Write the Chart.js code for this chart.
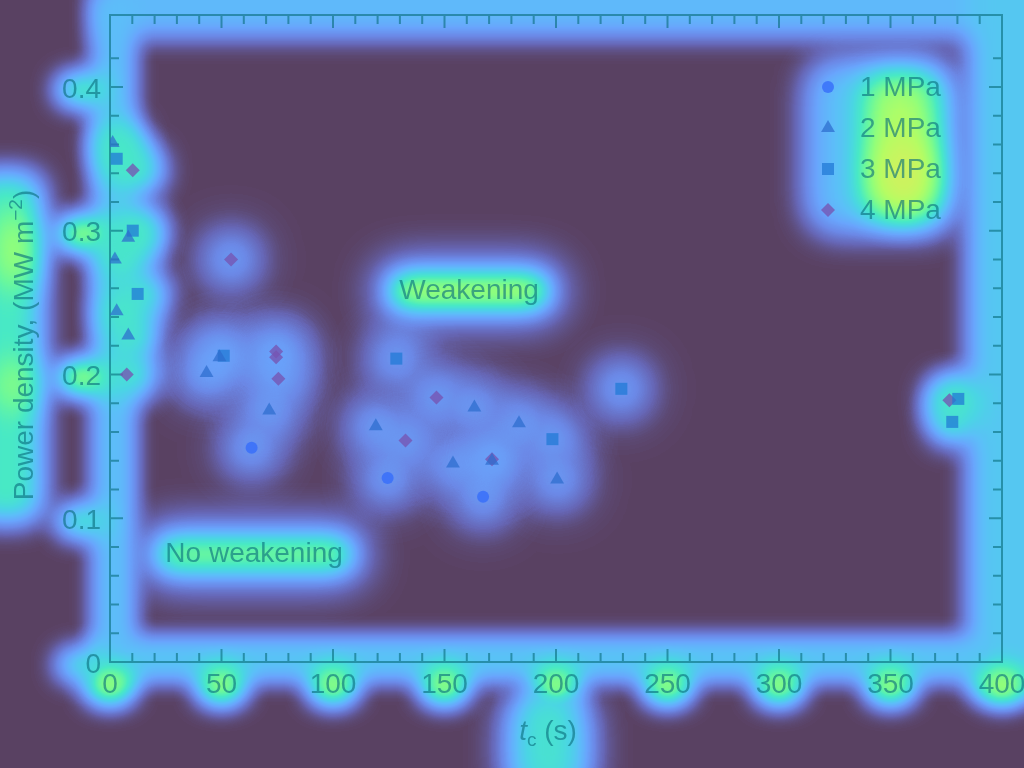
<!DOCTYPE html>
<html><head><meta charset="utf-8">
<script src="https://cdn.jsdelivr.net/npm/chart.js@4.4.1/dist/chart.umd.min.js"></script>
<style>html,body{margin:0;padding:0;background:#594162;overflow:hidden}#wrap{width:1024px;height:768px}</style>
</head><body><div id="wrap"><canvas id="c" width="1024" height="768"></canvas></div>
<script>
// ---- data ----
const seriesNames = ['1 MPa', '2 MPa', '3 MPa', '4 MPa'];
const mpa1X = [63.5, 124.5, 167.3];
const mpa1Y = [0.149, 0.128, 0.115];
const mpa2X = [1.2, 8.2, 2.2, 3.0, 8.2, 43.3, 49.1, 71.4, 119.2, 163.4, 183.4, 153.8, 171.3, 200.5];
const mpa2Y = [0.361, 0.295, 0.280, 0.244, 0.227, 0.201, 0.212, 0.175, 0.164, 0.177, 0.166, 0.138, 0.140, 0.127];
const mpa3X = [3.0, 10.2, 12.4, 51.0, 128.4, 198.4, 229.3, 380.4, 377.7];
const mpa3Y = [0.350, 0.300, 0.256, 0.213, 0.211, 0.155, 0.190, 0.183, 0.167];
const mpa4X = [10.2, 54.3, 7.5, 74.5, 74.5, 75.5, 146.4, 132.5, 171.3, 376.4];
const mpa4Y = [0.342, 0.280, 0.200, 0.216, 0.212, 0.197, 0.184, 0.154, 0.141, 0.182];
const xTickLabels = ['0', '50', '100', '150', '200', '250', '300', '350', '400'];
const yTickLabels = ['0', '0.1', '0.2', '0.3', '0.4'];
const annoText = ['Weakening', 'No weakening'];
const annoX = [161, 64.6];
const annoY = [0.258, 0.075];

// ---- style ----
const FONT = '"Liberation Sans", Arial, Helvetica, sans-serif';
const TXT = 'rgba(10,110,125,0.62)';
const styles = [
  {pointStyle: 'circle', radius: 6, color: 'rgba(54,109,250,0.8)'},
  {pointStyle: 'triangle', radius: 8, color: 'rgba(45,108,205,0.72)'},
  {pointStyle: 'rect', radius: 8.5, color: 'rgba(34,121,213,0.75)'},
  {pointStyle: 'rectRot', radius: 7, color: 'rgba(118,84,178,0.78)'}
];
const yLabelGlow = [0.28, 0.31, 0.45, 0.45, 0.34];

const zip = (xs, ys) => xs.map((x, i) => ({x, y: ys[i]}));
const allData = [zip(mpa1X, mpa1Y), zip(mpa2X, mpa2Y), zip(mpa3X, mpa3Y), zip(mpa4X, mpa4Y)];

// blended colormap (heat overlay look)
const LUT = [[0,89,65,98],[0.05,102,102,181],[0.1,107,136,230],[0.15,105,164,252],[0.2,92,190,249],[0.25,74,213,228],[0.3,72,233,197],[0.35,105,247,157],[0.4,144,254,123],[0.45,182,252,99],[0.5,213,239,93]];
const TABLE = [];
for (let v = 0; v < 256; v++) {
  const t = v / 255 * 0.5;
  let k = 0; while (k < LUT.length - 2 && LUT[k + 1][0] < t) k++;
  const A = LUT[k], B = LUT[k + 1], f = Math.max(0, Math.min(1, (t - A[0]) / (B[0] - A[0])));
  TABLE.push([A[1] + (B[1] - A[1]) * f, A[2] + (B[2] - A[2]) * f, A[3] + (B[3] - A[3]) * f]);
}

function legendGeom(a) { return {mx: a.right - 174, tx: a.right - 142, y0: a.top + 72, dy: 41}; }

const heatPlugin = {
  id: 'heat',
  beforeDraw(chart) {
    const ctx = chart.ctx, a = chart.chartArea, xs = chart.scales.x, ys = chart.scales.y;
    const W = chart.width, H = chart.height;
    const off = document.createElement('canvas'); off.width = W; off.height = H;
    const g = off.getContext('2d');
    g.fillStyle = '#000'; g.fillRect(0, 0, W, H);
    g.globalCompositeOperation = 'lighten';
    const shape = (t, blur, path) => {
      g.filter = 'blur(' + blur + 'px)';
      const v = Math.round(255 * Math.min(1, t / 0.5));
      g.fillStyle = 'rgb(' + v + ',' + v + ',' + v + ')';
      g.beginPath(); path(); g.fill();
    };
    const box = (t, blur, x, y, w, h, r) => shape(t, blur, () => g.roundRect ? g.roundRect(x, y, w, h, r || 0) : g.rect(x, y, w, h));
    const oval = (t, blur, cx, cy, rx, ry) => shape(t, blur, () => g.ellipse(cx, cy, rx, ry, 0, 0, Math.PI * 2));

    // frame bands
    box(0.19, 12, a.left - 14, -40, W - a.left + 54, a.top + 62);
    box(0.22, 12, a.right - 34, -40, 90, a.bottom + 72);
    box(0.21, 10, a.left - 18, a.bottom - 26, W - a.left + 40, 46);
    box(0.20, 10, a.left - 18, a.top - 20, 44, a.bottom - a.top + 40);
    // x tick labels
    xs.ticks.forEach(tk => { if (tk.value % 50 === 0) oval(0.46, 12, xs.getPixelForValue(tk.value), a.bottom + 24, 24, 18); });
    // x title
    const cx = (a.left + a.right) / 2 - 8;
    box(0.17, 18, cx - 45, a.bottom + 30, 90, 110, 30);
    box(0.28, 14, cx - 30, a.bottom + 30, 60, 100, 24);
    // y labels
    ys.ticks.forEach(tk => {
      const k = Math.round(tk.value * 100);
      if (k % 10 === 0 && k <= 40) oval(yLabelGlow[k / 10], 12, a.left - 28, ys.getPixelForValue(tk.value) + 3, 26, 17);
    });
    // y title
    box(0.30, 14, -30, 172, 72, 350, 20);
    oval(0.44, 16, 14, 250, 18, 40);
    oval(0.42, 16, 14, 385, 18, 25);
    // points
    chart.data.datasets.forEach((ds, di) => {
      chart.getDatasetMeta(di).data.forEach(p => {
        if (p.x < a.left + 45) { oval(0.3, 14, p.x + 6, p.y, 24, 24); }
        else if (p.x > a.right - 70) { oval(0.3, 14, p.x, p.y, 22, 22); }
        else { oval(0.08, 22, p.x, p.y, 34, 34); oval(0.155, 16, p.x, p.y, 22, 22); }
      });
    });
    // annotations
    annoText.forEach((s, i) => {
      ctx.save(); ctx.font = '28px ' + FONT; const w = ctx.measureText(s).width; ctx.restore();
      const px = xs.getPixelForValue(annoX[i]), py = ys.getPixelForValue(annoY[i]);
      box(0.16, 20, px - w / 2 - 26, py - 32, w + 52, 64, 32);
      box(i === 0 ? 0.46 : 0.39, 12, px - w / 2 - 8, py - 15, w + 16, 30, 15);
    });
    // legend
    const L = legendGeom(a);
    box(0.2, 16, L.mx - 22, L.y0 - 28, 150, 175, 30);
    box(0.44, 16, L.tx + 4, L.y0 - 12, 72, 140, 20);
    oval(0.5, 18, L.tx + 45, L.y0 + 88, 26, 40);

    g.filter = 'none';
    g.globalCompositeOperation = 'source-over';
    const img = g.getImageData(0, 0, W, H), d = img.data;
    for (let i = 0; i < d.length; i += 4) {
      const c = TABLE[d[i]];
      d[i] = c[0]; d[i + 1] = c[1]; d[i + 2] = c[2]; d[i + 3] = 255;
    }
    g.putImageData(img, 0, 0);
    ctx.save(); ctx.drawImage(off, 0, 0); ctx.restore();
  }
};

const framePlugin = {
  id: 'frame',
  beforeDatasetsDraw(chart) {
    const ctx = chart.ctx, a = chart.chartArea, xs = chart.scales.x, ys = chart.scales.y;
    ctx.save();
    ctx.strokeStyle = TXT; ctx.lineWidth = 2;
    ctx.beginPath();
    ctx.rect(a.left, a.top, a.right - a.left, a.bottom - a.top);
    xs.ticks.forEach(tk => {
      const px = xs.getPixelForValue(tk.value);
      if (px <= a.left + 1 || px >= a.right - 1) return;
      const len = tk.value % 50 === 0 ? 13 : 9;
      ctx.moveTo(px, a.bottom); ctx.lineTo(px, a.bottom - len);
      ctx.moveTo(px, a.top); ctx.lineTo(px, a.top + len);
    });
    ys.ticks.forEach(tk => {
      const py = ys.getPixelForValue(tk.value);
      if (py >= a.bottom - 1 || py <= a.top + 1) return;
      const len = Math.round(tk.value * 100) % 10 === 0 ? 13 : 9;
      ctx.moveTo(a.left, py); ctx.lineTo(a.left + len, py);
      ctx.moveTo(a.right, py); ctx.lineTo(a.right - len, py);
    });
    ctx.stroke();

    ctx.fillStyle = TXT;
    // annotations
    ctx.font = '28px ' + FONT; ctx.textAlign = 'center'; ctx.textBaseline = 'middle';
    annoText.forEach((s, i) => ctx.fillText(s, xs.getPixelForValue(annoX[i]), ys.getPixelForValue(annoY[i])));
    // legend
    const L = legendGeom(a);
    ctx.textAlign = 'left';
    seriesNames.forEach((s, i) => {
      const y = L.y0 + i * L.dy;
      ctx.fillStyle = styles[i].color;
      Chart.helpers.drawPoint(ctx, {pointStyle: styles[i].pointStyle, radius: styles[i].radius, rotation: 0, borderWidth: 0}, L.mx, y);
      ctx.fillStyle = TXT;
      ctx.fillText(s, L.tx, y + 1);
    });
    // y title with superscript
    ctx.save();
    ctx.translate(33, 345); ctx.rotate(-Math.PI / 2);
    ctx.textBaseline = 'alphabetic';
    const p1 = 'Power density, (MW m', sup = '\u22122', p3 = ')';
    ctx.font = '28px ' + FONT; const w1 = ctx.measureText(p1).width, w3 = ctx.measureText(p3).width;
    ctx.font = '19px ' + FONT; const w2 = ctx.measureText(sup).width;
    let x0 = -(w1 + w2 + w3) / 2;
    ctx.font = '28px ' + FONT; ctx.fillText(p1, x0, 0);
    ctx.font = '19px ' + FONT; ctx.fillText(sup, x0 + w1, -11);
    ctx.font = '28px ' + FONT; ctx.fillText(p3, x0 + w1 + w2, 0);
    ctx.restore();
    // x title
    ctx.textBaseline = 'alphabetic';
    const cx = (a.left + a.right) / 2 - 8;
    ctx.font = 'italic 28px ' + FONT; const wt = ctx.measureText('t').width;
    ctx.font = '19px ' + FONT; const wc = ctx.measureText('c').width;
    ctx.font = '28px ' + FONT; const ws = ctx.measureText(' (s)').width;
    let xx = cx - (wt + wc + ws) / 2;
    ctx.font = 'italic 28px ' + FONT; ctx.fillText('t', xx, 740);
    ctx.font = '19px ' + FONT; ctx.fillText('c', xx + wt, 746);
    ctx.font = '28px ' + FONT; ctx.fillText(' (s)', xx + wt + wc, 740);
    ctx.restore();
  }
};

new Chart(document.getElementById('c'), {
  type: 'scatter',
  data: {
    datasets: allData.map((d, i) => ({
      label: seriesNames[i], data: d,
      pointStyle: styles[i].pointStyle, pointRadius: styles[i].radius,
      pointBackgroundColor: styles[i].color, pointBorderWidth: 0, pointHoverRadius: styles[i].radius
    }))
  },
  options: {
    responsive: false, animation: false, events: [],
    layout: {autoPadding: false, padding: {left: 0, right: 22, top: 15, bottom: 0}},
    plugins: {legend: {display: false}, tooltip: {enabled: false}},
    scales: {
      x: {
        type: 'linear', min: 0, max: 400,
        grid: {display: false, drawTicks: false}, border: {display: false},
        ticks: {stepSize: 10, autoSkip: false, maxRotation: 0, padding: 6, color: TXT, font: {size: 28, family: FONT},
          callback: v => (v % 50 === 0 ? xTickLabels[v / 50] : '')},
        afterFit: s => { s.height = 106; s.paddingLeft = 0; s.paddingRight = 0; s.paddingTop = 0; s.paddingBottom = 0; }
      },
      y: {
        type: 'linear', min: 0, max: 0.45,
        grid: {display: false, drawTicks: false}, border: {display: false},
        ticks: {stepSize: 0.02, autoSkip: false, padding: 9, labelOffset: 3, color: TXT, font: {size: 28, family: FONT},
          callback: v => { const k = Math.round(v * 100); return (k % 10 === 0 && k <= 40) ? yTickLabels[k / 10] : ''; }},
        afterFit: s => { s.width = 110; s.paddingLeft = 0; s.paddingRight = 0; s.paddingTop = 0; s.paddingBottom = 0; }
      }
    }
  },
  plugins: [heatPlugin, framePlugin]
});
</script>
</body></html>
